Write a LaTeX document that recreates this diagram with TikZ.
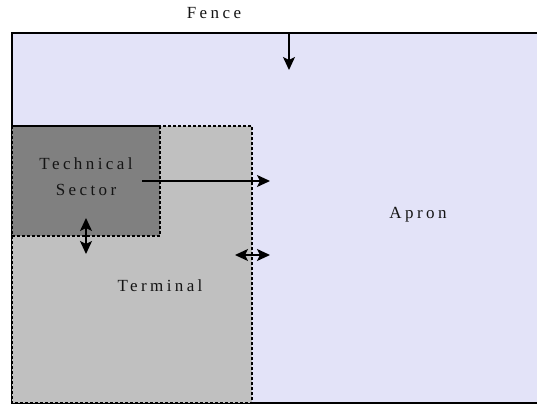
\documentclass[tikz,border=0pt]{standalone}
\usepackage{fontspec}
\setmainfont{Liberation Serif}
\newfontfamily\spacedfont[LetterSpace=20]{Liberation Serif}
\usetikzlibrary{arrows.meta}
\definecolor{apronfill}{HTML}{E3E3F8}
\definecolor{termfill}{HTML}{C0C0C0}
\definecolor{techfill}{HTML}{808080}
\begin{document}
\begin{tikzpicture}[x=1pt,y=-1pt,
  lbl/.style={font=\spacedfont\fontsize{17}{26}\selectfont, text=black!92, align=center, inner sep=0},
  zone/.style={draw=black, dash pattern=on 3pt off 2pt, line width=1.5pt},
  tip/.tip={Stealth[length=13pt,width=12pt,inset=3pt]},
  arr/.style={-tip, line width=1.6pt},
  darr/.style={tip-tip, line width=1.6pt}]
\useasboundingbox (0,0) rectangle (537,409);
% apron
\fill[apronfill] (12,33) rectangle (537,403);
\draw[line width=1.6pt] (537,33) -- (12,33) -- (12,403) -- (537,403);
% terminal
\fill[termfill] (12,126) rectangle (252,403);
\fill[techfill] (12,126) rectangle (160,236);
\draw[zone] (12,126) rectangle (252,403);
\draw[zone] (12,126) rectangle (160,236);
% labels
\node[lbl] (fence) at (214,13) {Fence};
\node[lbl] (tech) at (86,177) {Technical\\Sector};
\node[lbl] (term) at (160,286) {Terminal};
\node[lbl] (apron) at (418,215) {Apron};
% arrow anchors
\coordinate (f0) at (289,33);
\coordinate (f1) at (289,70);
\coordinate (t0) at (142,181);
\coordinate (t1) at (270,181);
\coordinate (v0) at (86,218);
\coordinate (v1) at (86,254);
\coordinate (h0) at (235,255);
\coordinate (h1) at (270,255);
\draw[arr] (f0) -- (f1);
\draw[arr] (t0) -- (t1);
\draw[darr] (v0) -- (v1);
\draw[darr] (h0) -- (h1);
\end{tikzpicture}
\end{document}
